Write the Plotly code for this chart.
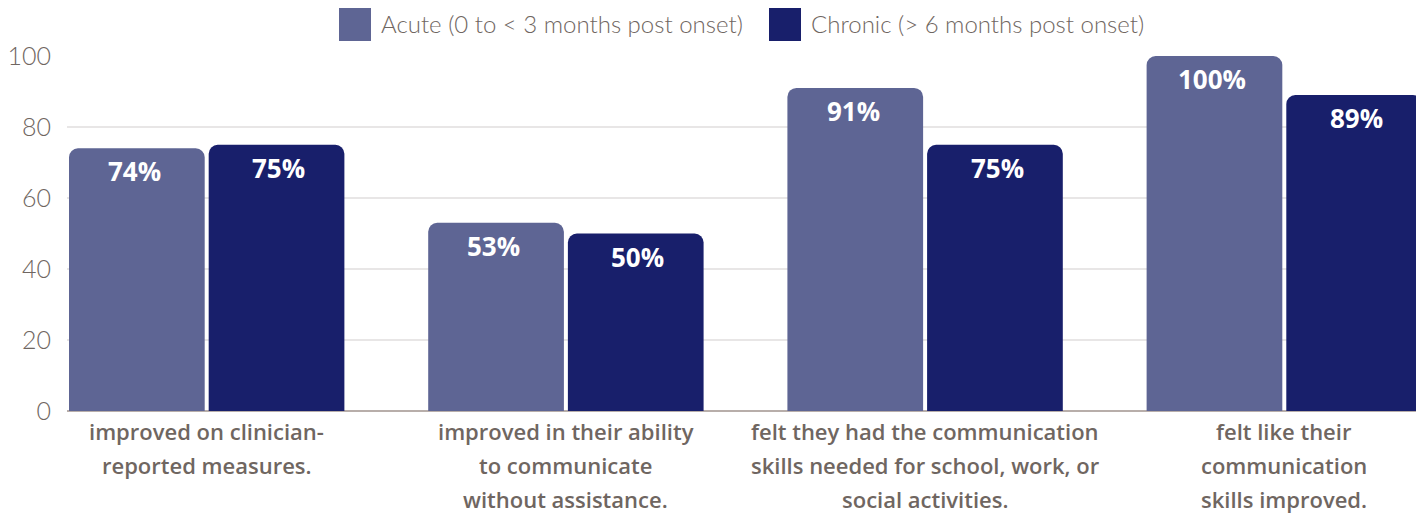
import plotly.graph_objects as go

categories = [
    "improved on clinician-<br>reported measures.",
    "improved in their ability<br>to communicate<br>without assistance.",
    "felt they had the communication<br>skills needed for school, work, or<br>social activities.",
    "felt like their<br>communication<br>skills improved.",
]
series_names = ["Acute (0 to < 3 months post onset)", "Chronic (> 6 months post onset)"]
acute = [74, 53, 91, 100]
chronic = [75, 50, 75, 89]
y_ticks = [0, 20, 40, 60, 80, 100]

colors = ["#5e6594", "#181f6b"]
text_color = "#6f6661"

OFF = 8  # browser body margin
W, H = 1416, 505
L, R, T, B = 59, 0, 48, 102
PW, PH = W - L - R, H - T - B

def xp(page_px):
    return (page_px - OFF - L) / PW

def yp(page_py):
    return (H - B - (page_py - OFF)) / PH

fig = go.Figure()
for name, vals, col in zip(series_names, [acute, chronic], colors):
    fig.add_trace(go.Bar(x=categories, y=vals, name=name, marker=dict(color=col, line=dict(width=0)),
                         showlegend=False, hoverinfo="skip"))

# value labels
for vals, shift in [(acute, -72), (chronic, 72)]:
    for c, v in zip(categories, vals):
        fig.add_annotation(x=c, y=v, xref="x", yref="y", text=f"<b>{v}%</b>", showarrow=False,
                           xshift=shift, yshift=-23, yanchor="middle",
                           font=dict(family="Open Sans", size=26, color="white"))

# category labels, one annotation per line
for c in categories:
    for i, line in enumerate(c.split("<br>")):
        fig.add_annotation(x=c, y=0, xref="x", yref="paper", text=line, showarrow=False,
                           yanchor="middle", yshift=-20 - 34 * i,
                           font=dict(family="Open Sans", size=22, color=text_color, weight=600))

# custom legend
legend_pos = [(339, 379), (769, 809)]
for (sx, tx), name, col in zip(legend_pos, series_names, colors):
    fig.add_shape(type="rect", xref="paper", yref="paper", x0=xp(sx), x1=xp(sx + 32),
                  y0=yp(41), y1=yp(8), fillcolor=col, line=dict(width=0))
    fig.add_annotation(x=xp(tx), y=yp(24), xref="paper", yref="paper", text=name, showarrow=False,
                       xanchor="left", yanchor="middle",
                       font=dict(family="Lato", size=24, color=text_color, weight=300))

fig.update_layout(
    width=W, height=H,
    margin=dict(l=L, r=R, t=T, b=B, pad=0),
    paper_bgcolor="white", plot_bgcolor="white",
    barmode="group", bargap=80 / 360, bargroupgap=8 / 280,
    barcornerradius=9,
    showlegend=False,
    xaxis=dict(range=[-140 / 360, 3 + 140 / 360], showticklabels=False, showgrid=False,
               zeroline=False, showline=False, ticks=""),
    yaxis=dict(range=[0, 100], tickvals=y_ticks, showgrid=True, gridcolor="#e8e6e6", gridwidth=1.5,
               zeroline=True, zerolinecolor="#b8aeaa", zerolinewidth=1.5,
               ticks="outside", ticklen=10, tickcolor="rgba(0,0,0,0)",
               tickfont=dict(family="Lato", size=25, color=text_color, weight=300)),
)

fig.write_html("out.html")
